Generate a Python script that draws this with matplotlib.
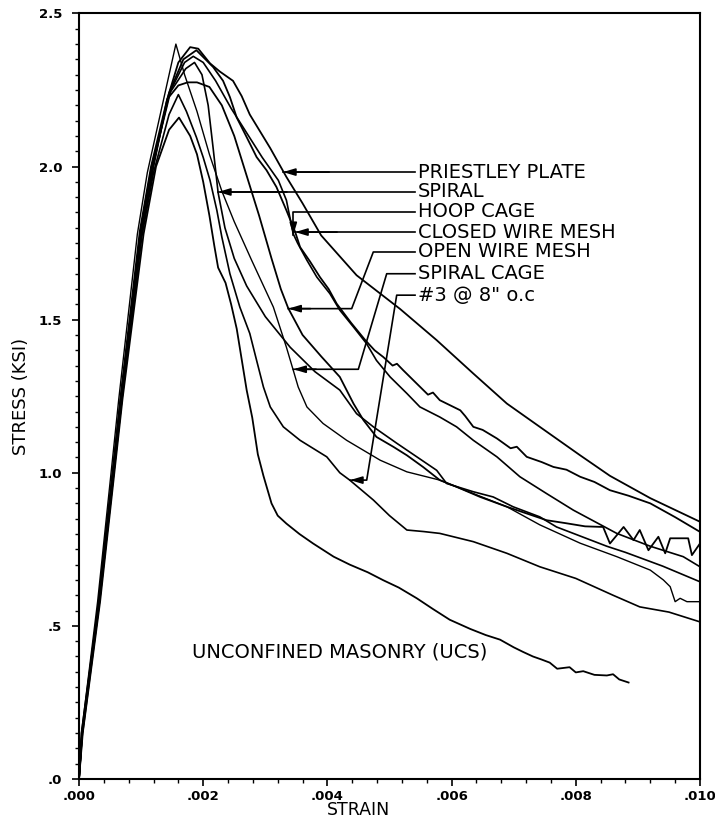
import matplotlib
matplotlib.use("Agg")
import matplotlib.pyplot as plt
from matplotlib.ticker import MultipleLocator

plt.rcParams['font.family'] = ['DejaVu Sans']

# ---- stress-strain data (strain, stress in ksi) ----
priestley_strain = [0, 0.00005, 0.00033, 0.00069, 0.00101, 0.00120, 0.00142, 0.00160, 0.00179,
                    0.00192, 0.00211, 0.00227, 0.00248, 0.00262, 0.00275, 0.00308, 0.00334,
                    0.00360, 0.00390, 0.00447, 0.00517, 0.00576, 0.00635, 0.00689, 0.00742,
                    0.00807, 0.00855, 0.00920, 0.01000]
priestley_stress = [0, 0.14, 0.58, 1.24, 1.78, 2.00, 2.22, 2.34, 2.39,
                    2.385, 2.337, 2.31, 2.28, 2.23, 2.17, 2.06, 1.966,
                    1.88, 1.775, 1.645, 1.535, 1.433, 1.324, 1.226, 1.15,
                    1.057, 0.99, 0.917, 0.840]

closed_strain = [0, 0.00004, 0.00032, 0.00068, 0.00100, 0.00119, 0.00145, 0.00168, 0.00189,
                 0.00216, 0.00232, 0.00243, 0.00254, 0.00270, 0.00286, 0.00302, 0.00318,
                 0.00334, 0.00348, 0.00356, 0.00372, 0.00388, 0.00402, 0.00415, 0.00438,
                 0.00461, 0.00476, 0.00490, 0.00505, 0.00512, 0.00522, 0.00544, 0.00562,
                 0.00570, 0.00581, 0.00614, 0.00622, 0.00635, 0.00650, 0.00673, 0.00695,
                 0.00705, 0.00721, 0.00745, 0.00764, 0.00785, 0.00807, 0.00830, 0.00855,
                 0.00885, 0.00920, 0.00960, 0.01000]
closed_stress = [0, 0.15, 0.58, 1.24, 1.78, 2.00, 2.24, 2.35, 2.38,
                 2.325, 2.28, 2.227, 2.16, 2.096, 2.031, 1.988, 1.933,
                 1.857, 1.787, 1.737, 1.69, 1.639, 1.60, 1.552, 1.49,
                 1.433, 1.40, 1.378, 1.35, 1.356, 1.335, 1.291, 1.255,
                 1.262, 1.237, 1.204, 1.185, 1.15, 1.14, 1.112, 1.08,
                 1.085, 1.052, 1.035, 1.019, 1.01, 0.987, 0.97, 0.943,
                 0.925, 0.90, 0.855, 0.807]

hoop_strain = [0, 0.00005, 0.00031, 0.00067, 0.00099, 0.00118, 0.00148, 0.00170, 0.00184,
               0.00200, 0.00220, 0.00245, 0.00270, 0.00295, 0.00321, 0.00334, 0.00345,
               0.00352, 0.00367, 0.00383, 0.00404, 0.00420, 0.00442, 0.00463, 0.00479,
               0.00501, 0.00528, 0.00549, 0.00581, 0.00608, 0.00635, 0.00673, 0.00710,
               0.00753, 0.00796, 0.00866, 0.00920, 0.00973, 0.01000]
hoop_stress = [0, 0.15, 0.57, 1.24, 1.78, 2.00, 2.25, 2.34, 2.36,
               2.34, 2.28, 2.19, 2.11, 2.03, 1.955, 1.89, 1.78,
               1.75, 1.694, 1.639, 1.585, 1.531, 1.476, 1.422, 1.367,
               1.313, 1.259, 1.215, 1.182, 1.15, 1.106, 1.052, 0.987,
               0.932, 0.878, 0.802, 0.76, 0.726, 0.693]

spiral_strain = [0, 0.00005, 0.00032, 0.00068, 0.00099, 0.00117, 0.00146, 0.00172, 0.00186,
                 0.00198, 0.00208, 0.00216, 0.00224, 0.00235, 0.00250, 0.00270, 0.00300,
                 0.00340, 0.00380, 0.00420, 0.00447, 0.00474, 0.00512, 0.00544, 0.00576,
                 0.00592, 0.00635, 0.00667, 0.00699, 0.00742, 0.00769, 0.00796, 0.00850,
                 0.00880, 0.00940, 0.01000]
spiral_stress = [0, 0.15, 0.58, 1.25, 1.79, 2.00, 2.24, 2.32, 2.34,
                 2.30, 2.20, 2.06, 1.915, 1.80, 1.70, 1.61, 1.51,
                 1.41, 1.33, 1.27, 1.193, 1.15, 1.096, 1.052, 1.008,
                 0.965, 0.938, 0.921, 0.889, 0.856, 0.823, 0.802, 0.76,
                 0.74, 0.695, 0.644]

open_strain = [0, 0.00005, 0.00032, 0.00067, 0.00098, 0.00116, 0.00142, 0.00160, 0.00175,
               0.00190, 0.00210, 0.00230, 0.00250, 0.00270, 0.00290, 0.00310, 0.00325,
               0.00337, 0.00360, 0.00390, 0.00420, 0.00442, 0.00458, 0.00479, 0.00506,
               0.00528, 0.00554, 0.00581, 0.00608, 0.00646, 0.00689, 0.00721, 0.00753,
               0.00785, 0.00815, 0.00844, 0.00855, 0.00877, 0.00893, 0.00903, 0.00917,
               0.00933, 0.00944, 0.00952, 0.00981, 0.00987, 0.01000]
open_stress = [0, 0.15, 0.58, 1.25, 1.79, 2.00, 2.22, 2.265, 2.275,
               2.275, 2.26, 2.20, 2.10, 1.97, 1.84, 1.70, 1.60,
               1.537, 1.45, 1.38, 1.313, 1.226, 1.172, 1.117, 1.085,
               1.057, 1.019, 0.976, 0.954, 0.921, 0.889, 0.867, 0.845,
               0.835, 0.825, 0.823, 0.769, 0.823, 0.78, 0.813, 0.747,
               0.791, 0.737, 0.786, 0.786, 0.731, 0.769]

cage_strain = [0, 0.00004, 0.00030, 0.00064, 0.00094, 0.00110, 0.00156,
               0.00170, 0.00190, 0.00210, 0.00230, 0.00250, 0.00278, 0.00313, 0.00334,
               0.00345, 0.00353, 0.00367, 0.00393, 0.00431, 0.00485, 0.00528, 0.00581,
               0.00635, 0.00689, 0.00742, 0.00807, 0.00866, 0.00920, 0.00941, 0.00952,
               0.00960, 0.00968, 0.00979, 0.01000]
cage_stress = [0, 0.15, 0.58, 1.24, 1.78, 1.98, 2.40,
               2.30, 2.18, 2.04, 1.92, 1.82, 1.694, 1.541, 1.41,
               1.335, 1.28, 1.215, 1.161, 1.106, 1.041, 1.003, 0.976,
               0.932, 0.889, 0.83, 0.77, 0.726, 0.682, 0.65, 0.628,
               0.579, 0.59, 0.579, 0.579]

no3_strain = [0, 0.00005, 0.00033, 0.00069, 0.00101, 0.00120, 0.00145, 0.00160,
              0.00173, 0.00189, 0.00200, 0.00211, 0.00222, 0.00230, 0.00243, 0.00259,
              0.00275, 0.00286, 0.00297, 0.00308, 0.00329, 0.00356, 0.00399, 0.00420,
              0.00436, 0.00474, 0.00500, 0.00528, 0.00555, 0.00581, 0.00635, 0.00689,
              0.00742, 0.00800, 0.00860, 0.00903, 0.00950, 0.01000]
no3_stress = [0, 0.15, 0.58, 1.24, 1.77, 1.98, 2.17, 2.235,
              2.18, 2.096, 2.03, 1.955, 1.857, 1.77, 1.65, 1.541,
              1.455, 1.367, 1.28, 1.215, 1.15, 1.106, 1.052, 1.00,
              0.976, 0.911, 0.86, 0.813, 0.808, 0.802, 0.775, 0.737,
              0.693, 0.655, 0.60, 0.562, 0.545, 0.513]

ucs_strain = [0, 0.00006, 0.00034, 0.00070, 0.00104, 0.00124, 0.00145, 0.00161,
              0.00179, 0.00190, 0.00200, 0.00210, 0.00218, 0.00224, 0.00236, 0.00245,
              0.00254, 0.00262, 0.00270, 0.00279, 0.00288, 0.00297, 0.00310, 0.00320,
              0.00334, 0.00355, 0.00377, 0.00410, 0.00436, 0.00465, 0.00490, 0.00515,
              0.00544, 0.00570, 0.00597, 0.00630, 0.00655, 0.00678, 0.00700, 0.00715,
              0.00731, 0.00745, 0.00758, 0.00770, 0.00790, 0.00800, 0.00812, 0.00830,
              0.00850, 0.00860, 0.00870, 0.00885]
ucs_stress = [0, 0.15, 0.58, 1.24, 1.78, 2.00, 2.12, 2.16,
              2.10, 2.04, 1.95, 1.84, 1.74, 1.67, 1.62, 1.55,
              1.47, 1.37, 1.27, 1.18, 1.06, 0.99, 0.90, 0.86,
              0.834, 0.80, 0.769, 0.726, 0.70, 0.675, 0.649, 0.625,
              0.59, 0.555, 0.52, 0.49, 0.47, 0.455, 0.43, 0.415,
              0.40, 0.39, 0.38, 0.36, 0.365, 0.348, 0.352, 0.34,
              0.338, 0.342, 0.325, 0.315]

labels = ["PRIESTLEY PLATE", "SPIRAL", "HOOP CAGE", "CLOSED WIRE MESH",
          "OPEN WIRE MESH", "SPIRAL CAGE", "#3 @ 8\" o.c"]

x_ticks = [0, 0.002, 0.004, 0.006, 0.008, 0.010]
x_ticklabels = [".000", ".002", ".004", ".006", ".008", ".010"]
y_ticks = [0, 0.5, 1.0, 1.5, 2.0, 2.5]
y_ticklabels = [".0", ".5", "1.0", "1.5", "2.0", "2.5"]

# ---- figure ----
fig = plt.figure(figsize=(7.15, 8.21), dpi=100)
ax = fig.add_axes([0.1105, 0.0512, 0.8685, 0.9324])

curves = [
    (priestley_strain, priestley_stress, 1.3),
    (closed_strain, closed_stress, 1.3),
    (hoop_strain, hoop_stress, 1.2),
    (spiral_strain, spiral_stress, 1.2),
    (open_strain, open_stress, 1.3),
    (cage_strain, cage_stress, 1.0),
    (no3_strain, no3_stress, 1.2),
    (ucs_strain, ucs_stress, 1.3),
]
for xs, ys, lw in curves:
    ax.plot(xs, ys, color="black", lw=lw, solid_joinstyle="round", clip_on=True)

# ---- leader lines from the labels to their curves ----
text_x = 0.00546
text_y = [1.982, 1.917, 1.852, 1.786, 1.721, 1.650, 1.580]
leader_x0 = 0.005411
leaders = [
    [(leader_x0, 1.982), (0.003285, 1.982)],
    [(leader_x0, 1.917), (0.002238, 1.917)],
    [(leader_x0, 1.852), (0.003451, 1.852), (0.003451, 1.776)],
    [(leader_x0, 1.786), (0.003480, 1.786)],
    [(leader_x0, 1.721), (0.004739, 1.721), (0.004391, 1.536), (0.003370, 1.536)],
    [(leader_x0, 1.650), (0.004955, 1.650), (0.004498, 1.338), (0.003451, 1.338)],
    [(leader_x0, 1.580), (0.005116, 1.580), (0.004633, 0.976), (0.004364, 0.976)],
]
for pts in leaders:
    xs = [p[0] for p in pts]
    ys = [p[1] for p in pts]
    ax.plot(xs, ys, color="black", lw=1.2)
    (x1, y1), (x2, y2) = pts[-2], pts[-1]
    ax.annotate("", xy=(x2, y2), xytext=(x2 + (x1 - x2) * 0.35, y2 + (y1 - y2) * 0.35),
                arrowprops=dict(arrowstyle="-|>,head_length=0.6,head_width=0.18",
                                color="black", lw=1.2, mutation_scale=12,
                                shrinkA=0, shrinkB=0))

for lab, ty in zip(labels, text_y):
    ax.text(text_x, ty, lab, fontsize=14, ha="left", va="center", color="black")

ax.text(0.00182, 0.415, "UNCONFINED MASONRY (UCS)", fontsize=14,
        ha="left", va="center", color="black")

# ---- axes ----
ax.set_xlim(0, 0.010)
ax.set_ylim(0, 2.5)
ax.set_xticks(x_ticks)
ax.set_xticklabels(x_ticklabels, fontweight="bold")
ax.set_yticks(y_ticks)
ax.set_yticklabels(y_ticklabels, fontweight="bold")
ax.xaxis.set_minor_locator(MultipleLocator(0.0004))
ax.yaxis.set_minor_locator(MultipleLocator(0.05))
ax.tick_params(which="major", direction="out", length=5, width=1.2, labelsize=9.5)
ax.tick_params(which="minor", direction="out", length=3, width=1.0)
ax.tick_params(axis="y", which="major", pad=7)
ax.tick_params(axis="x", which="major", pad=3)
for sp in ax.spines.values():
    sp.set_linewidth(1.5)

ax.set_xlabel("STRAIN", fontsize=12.5)
ax.set_ylabel("STRESS (KSI)", fontsize=13)
ax.xaxis.set_label_coords(0.45, -0.029)
ax.yaxis.set_label_coords(-0.079, 0.5)

fig.savefig("out.png", dpi=100)
